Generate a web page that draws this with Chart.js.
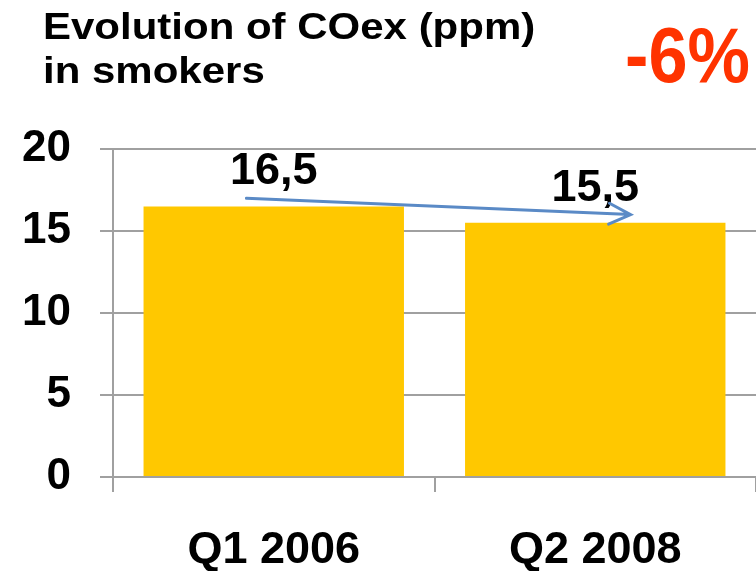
<!DOCTYPE html>
<html>
<head>
<meta charset="utf-8">
<script src="https://cdn.jsdelivr.net/npm/chart.js@4"></script>
<style>
  body { margin: 0; background: #fff; }
</style>
</head>
<body>
<canvas id="chart" width="756" height="571"></canvas>
<script>
var FONT = '"Liberation Sans", Arial, sans-serif';

var categories = ['Q1 2006', 'Q2 2008'];
var coexValues = [16.5, 15.5];
var valueLabels = ['16,5', '15,5'];
var yTicks = [0, 5, 10, 15, 20];
var titleLines = ['Evolution of COex (ppm)', 'in smokers'];
var changeLabel = '-6%';

// titles, value labels and the trend arrow
var extras = {
    id: 'extras',
    afterDatasetsDraw: function(chart) {
        var ctx = chart.ctx;
        var meta = chart.getDatasetMeta(0);
        var xs = chart.scales.x, ys = chart.scales.y;
        ctx.save();

        // value labels over bars
        ctx.fillStyle = '#000';
        ctx.font = 'bold 45px ' + FONT;
        ctx.textAlign = 'center';
        ctx.textBaseline = 'alphabetic';
        meta.data.forEach(function(bar, i) {
            ctx.fillText(valueLabels[i], bar.x, bar.y - 22);
        });

        // arrow from first to second value
        var catW = xs.width / categories.length;
        var x1 = meta.data[0].x - catW * 0.085;
        var y1 = ys.getPixelForValue(coexValues[0] + 0.5);
        var x2 = meta.data[1].x + catW * 0.11;
        var y2 = ys.getPixelForValue(coexValues[1] + 0.5);
        var ang = Math.atan2(y2 - y1, x2 - x1);
        ctx.strokeStyle = '#5A8AC6';
        ctx.lineWidth = 3;
        ctx.lineCap = 'round';
        ctx.beginPath();
        ctx.moveTo(x1, y1);
        ctx.lineTo(x2, y2);
        ctx.moveTo(x2 - 24 * Math.cos(ang - 0.45), y2 - 24 * Math.sin(ang - 0.45));
        ctx.lineTo(x2, y2);
        ctx.lineTo(x2 - 24 * Math.cos(ang + 0.45), y2 - 24 * Math.sin(ang + 0.45));
        ctx.stroke();

        // title (two lines)
        ctx.textAlign = 'left';
        ctx.fillStyle = '#000';
        ctx.font = 'bold 37px ' + FONT;
        titleLines.forEach(function(line, i) {
            ctx.save();
            ctx.translate(43, 39 + i * 44);
            ctx.scale(1.135, 1);
            ctx.fillText(line, 0, 0);
            ctx.restore();
        });

        // percentage change
        ctx.fillStyle = '#FF3300';
        ctx.font = 'bold 78px ' + FONT;
        ctx.translate(625, 82);
        ctx.scale(0.9, 1);
        ctx.fillText(changeLabel, 0, 0);
        ctx.restore();
    }
};

new Chart(document.getElementById('chart').getContext('2d'), {
    type: 'bar',
    data: {
        labels: categories,
        datasets: [{
            data: coexValues,
            backgroundColor: '#FFC800',
            borderWidth: 0,
            categoryPercentage: 1,
            barPercentage: 0.81
        }]
    },
    options: {
        responsive: false,
        animation: false,
        events: [],
        layout: { padding: { top: 149, left: 22, right: 0, bottom: 0 } },
        plugins: {
            legend: { display: false },
            tooltip: { enabled: false }
        },
        scales: {
            x: {
                afterFit: function(axis) { axis.height = 94; },
                grid: {
                    offset: true,
                    drawOnChartArea: false,
                    drawTicks: true,
                    tickLength: 15,
                    color: '#A0A0A0',
                    lineWidth: 2
                },
                border: { color: '#A0A0A0', width: 2 },
                ticks: {
                    color: '#000',
                    padding: 36,
                    font: { family: FONT, size: 45, weight: 'bold', lineHeight: 1 }
                }
            },
            y: {
                min: yTicks[0],
                max: yTicks[yTicks.length - 1],
                afterFit: function(axis) { axis.width = 91; },
                afterBuildTicks: function(axis) {
                    axis.ticks = yTicks.map(function(v) { return { value: v }; });
                },
                grid: {
                    color: '#A0A0A0',
                    lineWidth: 2,
                    tickLength: 13
                },
                border: { color: '#A0A0A0', width: 2 },
                ticks: {
                    color: '#000',
                    padding: 29,
                    font: { family: FONT, size: 44, weight: 'bold' }
                }
            }
        }
    },
    plugins: [extras]
});
</script>
</body>
</html>
